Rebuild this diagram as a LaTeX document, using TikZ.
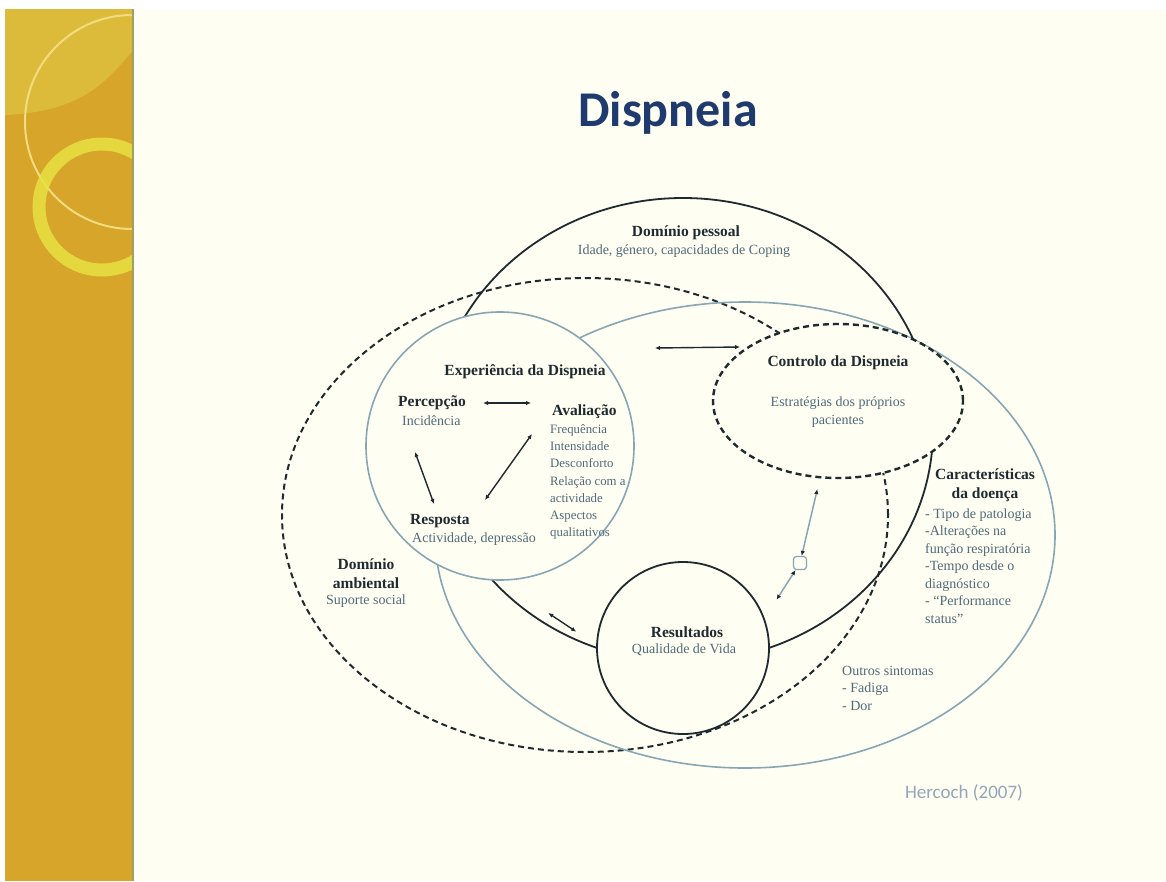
\documentclass[tikz,border=0pt]{standalone}
\usepackage{fontspec}
\setmainfont{Liberation Serif}
\newfontfamily\calibri{Carlito}
\usetikzlibrary{shapes.geometric,arrows.meta}

\definecolor{paper}{HTML}{FFFEF2}
\definecolor{gold}{HTML}{D6A52A}
\definecolor{goldlight}{HTML}{DDBB3A}
\definecolor{ringlight}{HTML}{F2DC80}
\definecolor{ring}{HTML}{E8E243}
\definecolor{bandedge}{HTML}{9AA266}
\definecolor{ink}{HTML}{1E2A30}
\definecolor{softink}{HTML}{4F6A78}
\definecolor{thinline}{HTML}{86A6B4}
\definecolor{titleblue}{HTML}{1F3A6E}
\definecolor{citegray}{HTML}{93A7B8}

\tikzstyle{dashring}=[ellipse,
	draw=ink,
	line width=2pt,
	inner sep=0pt,
	dash pattern=on 6pt off 4pt]
\tikzstyle{thinring}=[draw=thinline,
	line width=1.6pt,
	inner sep=0pt]
\tikzstyle{solidring}=[draw=ink,
	line width=1.8pt,
	inner sep=0pt]
\tikzstyle{heading}=[font=\fontsize{15.5}{19}\selectfont\bfseries,
	text=ink,
	inner sep=0pt]
\tikzstyle{detail}=[font=\fontsize{14}{17.5}\selectfont,
	text=softink,
	inner sep=0pt]
\tikzstyle{link}=[draw=ink,
	line width=1.4pt,
	{Latex[length=5pt,width=4.5pt]}-{Latex[length=5pt,width=4.5pt]}]
\tikzstyle{thinlink}=[draw=thinline,
	line width=1.5pt,
	{Latex[length=5pt,width=4.5pt,color=ink]}-{Latex[length=5pt,width=4.5pt,color=ink]}]

\begin{document}
\begin{tikzpicture}[x=1pt,y=-1pt]
\useasboundingbox (0,0) rectangle (1166,881);
% slide background
\fill[white] (0,0) rectangle (1166,881);
\fill[paper] (5,9) rectangle (1166,881);
\fill[gold] (5,9) rectangle (133,881);
\begin{scope}
	\clip (5,9) rectangle (133,881);
	\fill[goldlight] (5,9) -- (133,9) -- (133,50) .. controls (100,92) and (70,112) .. (5,115) -- cycle;
	\draw[ringlight, line width=2pt] (132,122) circle [radius=107];
	\draw[ring, line width=13pt, opacity=.85] (102,207) circle [radius=63];
\end{scope}
\draw[bandedge, line width=2pt] (133,9) -- (133,881);

% domains
\node (ambiental) [dashring, minimum width=606pt, minimum height=474pt] at (585,515) {};
\node (doenca) [ellipse, thinring, minimum width=620pt, minimum height=466pt] at (745,535) {};
\node (pessoal) [ellipse, solidring, minimum width=500pt, minimum height=464pt] at (683,430) {};
\node (experiencia) [circle, thinring, fill=paper, minimum size=268pt] at (500,446) {};
\node (controlo) [dashring, line width=2.4pt, fill=paper, minimum width=250pt, minimum height=154pt] at (838,401) {};
\node (resultados) [circle, solidring, fill=paper, minimum size=172pt] at (683,648) {};
\node (mediador) [rectangle, rounded corners=3pt, draw=thinline, line width=1.2pt, fill=paper, minimum size=13pt] at (800,563) {};

% texts
\node (titulo) [font=\calibri\bfseries\fontsize{50}{60}\selectfont, text=titleblue] at (668,113) {Dispneia};
\node (pessoaltitulo) [heading] at (686,233) {Domínio pessoal};
\node (pessoaltexto) [detail] at (684,251) {Idade, género, capacidades de Coping};
\node (experienciatitulo) [heading] at (525,372) {Experiência da Dispneia};
\node (percepcao) [heading, anchor=west] at (398,403) {Percepção};
\node (incidencia) [detail, anchor=west] at (402,421) {Incidência};
\node (avaliacao) [heading, anchor=west] at (552,412) {Avaliação};
\node (avaliacaoitens) [detail, font=\fontsize{12.8}{17.3}\selectfont, anchor=west, align=left] at (550,482) {Frequência\\Intensidade\\Desconforto\\Relação com a\\actividade\\Aspectos\\qualitativos};
\node (resposta) [heading, anchor=west] at (410,521) {Resposta};
\node (respostatexto) [detail, anchor=west] at (412,539) {Actividade, depressão};
\node (controlotitulo) [heading] at (838,363) {Controlo da Dispneia};
\node (controlotexto) [detail, align=center] at (838,412) {Estratégias dos próprios\\pacientes};
\node (doencatitulo) [heading, align=center] at (985,485) {Características\\da doença};
\node (doencaitens) [detail, anchor=west, align=left] at (925,566) {- Tipo de patologia\\-Alterações na\\função respiratória\\-Tempo desde o\\diagnóstico\\- “Performance\\status”};
\node (ambientaltitulo) [heading, align=center] at (366,574) {Domínio\\ambiental};
\node (ambientaltexto) [detail] at (366,601) {Suporte social};
\node (resultadostitulo) [heading] at (687,632) {Resultados};
\node (resultadostexto) [detail] at (684,650) {Qualidade de Vida};
\node (sintomas) [detail, anchor=west, align=left] at (842,688) {Outros sintomas\\- Fadiga\\- Dor};
\node (fonte) [font=\calibri\fontsize{19}{22}\selectfont, text=citegray] at (964,793) {Hercoch (2007)};

% connectors
\coordinate (ec1) at (655,348);
\coordinate (ec2) at (740,347);
\draw[link] (ec1) -- (ec2);
\draw[link, shorten <=17pt, shorten >=21pt] (percepcao.east) -- (percepcao.east -| avaliacao.west);
\coordinate (pr1) at (415,452);
\coordinate (pr2) at (434,504);
\draw[link] (pr1) -- (pr2);
\coordinate (ar1) at (532,434);
\coordinate (ar2) at (485,500);
\draw[link] (ar1) -- (ar2);
\draw[link, shorten <=58pt, shorten >=24pt] (experiencia.south) -- (resultados.178);
\draw[thinlink, shorten <=11pt] (controlo) -- (mediador);
\draw[thinlink, shorten >=22pt] (mediador) -- (resultados.20);
\end{tikzpicture}
\end{document}
